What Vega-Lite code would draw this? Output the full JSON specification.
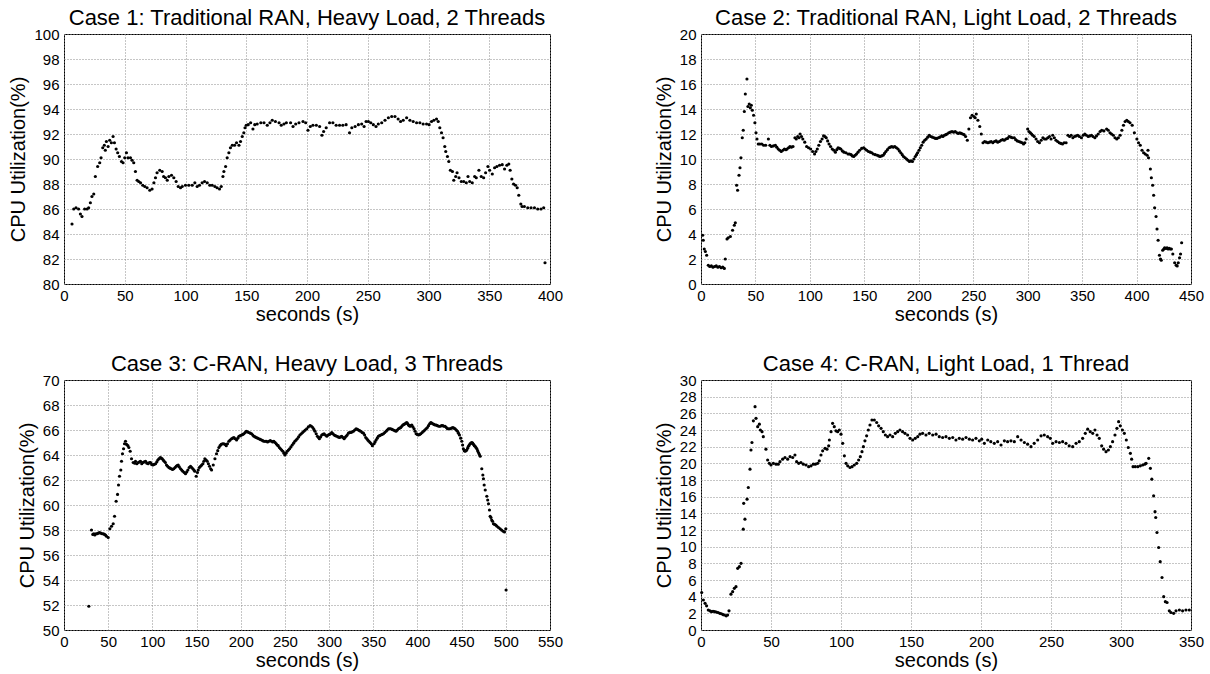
{
  "$schema": "https://vega.github.io/schema/vega-lite/v6.json",
  "background": "white",
  "padding": {"left": 8, "top": 6, "right": 5, "bottom": 0},
  "columns": 2,
  "spacing": {"row": 27, "column": 89},
  "config": {
    "font": "Liberation Sans",
    "view": {"stroke": "#000", "strokeWidth": 1},
    "axis": {"grid": true, "gridColor": "#8c8c8c", "gridDash": [1, 2], "gridWidth": 1, "gridOpacity": 1, "domain": false, "ticks": false, "labelFont": "Liberation Sans", "labelFontSize": 15, "labelColor": "#000", "titleFont": "Liberation Sans", "titleFontSize": 20, "titleFontWeight": "normal", "titleColor": "#000"},
    "axisX": {"labelPadding": 4, "titlePadding": 1, "labelFlush": false},
    "axisY": {"labelPadding": 5, "titlePadding": 5},
    "title": {"font": "Liberation Sans", "fontSize": 22, "fontWeight": "normal", "color": "#000", "offset": -3, "anchor": "middle"}
  },
  "datasets": {
    "c1": [
      {"t":6.6,"u":84.8},{"t":8,"u":86.0},{"t":9.9,"u":86.1},{"t":12,"u":86.0},{"t":13.5,"u":85.6},{"t":14.8,"u":85.4},{"t":17,"u":86.0},{"t":19,"u":86.0},{"t":20.3,"u":86.1},{"t":21.7,"u":86.5},{"t":23,"u":87.0},{"t":24.5,"u":87.2},{"t":25.8,"u":88.6},{"t":27.7,"u":89.4},{"t":29.4,"u":89.7},{"t":30.5,"u":90.1},{"t":31.9,"u":90.9},{"t":33.2,"u":91.1},{"t":34,"u":90.7},{"t":34.9,"u":91.4},{"t":36.3,"u":91.0},{"t":37.6,"u":91.5},{"t":39,"u":91.3},{"t":40.4,"u":91.8},{"t":41.5,"u":91.3},{"t":42.9,"u":90.8},{"t":44.2,"u":90.5},{"t":45.6,"u":90.2},{"t":47.3,"u":89.8},{"t":48.6,"u":89.7},{"t":50,"u":90.1},{"t":51.4,"u":90.5},{"t":52.7,"u":90.1},{"t":54.7,"u":90.1},{"t":56,"u":89.9},{"t":57.4,"u":89.7},{"t":58.8,"u":89.0},{"t":60.2,"u":88.3},{"t":61.5,"u":88.2},{"t":63,"u":88.1},{"t":64.8,"u":87.9},{"t":66.5,"u":87.8},{"t":68.4,"u":87.7},{"t":70.6,"u":87.5},{"t":72.5,"u":87.6},{"t":74,"u":88.1},{"t":75.3,"u":88.5},{"t":76.6,"u":88.9},{"t":78.8,"u":89.1},{"t":80.8,"u":89.0},{"t":82,"u":88.6},{"t":83.5,"u":88.5},{"t":85,"u":88.3},{"t":86.3,"u":88.6},{"t":88.5,"u":88.7},{"t":90.4,"u":88.5},{"t":92.3,"u":88.2},{"t":94,"u":87.8},{"t":95.9,"u":87.7},{"t":97.3,"u":87.8},{"t":100,"u":87.9},{"t":102.7,"u":87.9},{"t":105.5,"u":87.9},{"t":107.7,"u":88.1},{"t":109.6,"u":87.8},{"t":111.5,"u":87.9},{"t":113.7,"u":88.1},{"t":115.7,"u":88.2},{"t":117.9,"u":88.1},{"t":120,"u":87.9},{"t":122,"u":87.9},{"t":124.2,"u":87.8},{"t":126,"u":87.7},{"t":128,"u":87.6},{"t":129.4,"u":87.8},{"t":130.8,"u":88.6},{"t":131.6,"u":89.0},{"t":133,"u":89.4},{"t":134.3,"u":90.1},{"t":135.7,"u":90.5},{"t":137,"u":90.9},{"t":138.5,"u":91.1},{"t":140.4,"u":91.1},{"t":142,"u":91.3},{"t":144,"u":91.1},{"t":145.3,"u":91.4},{"t":146.7,"u":91.8},{"t":148,"u":92.1},{"t":149,"u":92.5},{"t":150,"u":92.7},{"t":151.6,"u":92.75},{"t":153.6,"u":92.9},{"t":155.5,"u":92.4},{"t":157,"u":92.75},{"t":159,"u":92.8},{"t":162,"u":92.9},{"t":164.6,"u":92.9},{"t":167.3,"u":92.7},{"t":169.5,"u":92.9},{"t":171.4,"u":93.1},{"t":174,"u":93.0},{"t":177,"u":92.9},{"t":178.8,"u":92.7},{"t":181,"u":92.8},{"t":183,"u":92.9},{"t":186.5,"u":92.9},{"t":188.5,"u":92.6},{"t":190.7,"u":92.8},{"t":193.4,"u":92.9},{"t":196.7,"u":93.0},{"t":198.9,"u":92.9},{"t":200.8,"u":92.3},{"t":202.7,"u":92.6},{"t":204.9,"u":92.7},{"t":207.7,"u":92.7},{"t":210.4,"u":92.6},{"t":212.3,"u":91.9},{"t":213.7,"u":92.2},{"t":215.8,"u":92.5},{"t":218.6,"u":92.9},{"t":221.3,"u":92.9},{"t":224,"u":92.7},{"t":226.8,"u":92.7},{"t":229.5,"u":92.7},{"t":232.2,"u":92.75},{"t":235,"u":92.1},{"t":236.9,"u":92.5},{"t":239.6,"u":92.6},{"t":242.3,"u":92.75},{"t":245,"u":92.8},{"t":247,"u":92.6},{"t":248.6,"u":93.0},{"t":250.5,"u":93.0},{"t":252.5,"u":92.9},{"t":254.6,"u":92.75},{"t":256.8,"u":92.6},{"t":258.7,"u":92.8},{"t":261.5,"u":92.9},{"t":264.2,"u":93.1},{"t":267,"u":93.3},{"t":269.7,"u":93.4},{"t":272.4,"u":93.4},{"t":275,"u":93.2},{"t":277,"u":93.0},{"t":279.2,"u":93.1},{"t":282,"u":93.3},{"t":284.7,"u":93.1},{"t":287.4,"u":93.0},{"t":290.2,"u":92.9},{"t":292.9,"u":92.9},{"t":295.6,"u":92.8},{"t":298.4,"u":92.8},{"t":300.5,"u":92.75},{"t":302.5,"u":93.0},{"t":304.4,"u":93.1},{"t":306.6,"u":93.2},{"t":308,"u":93.0},{"t":309.3,"u":92.5},{"t":310.7,"u":92.1},{"t":312,"u":91.7},{"t":313.4,"u":91.0},{"t":314.2,"u":90.6},{"t":315.6,"u":90.2},{"t":316.7,"u":89.8},{"t":318,"u":89.1},{"t":319.7,"u":89.0},{"t":320.8,"u":88.3},{"t":322.4,"u":88.6},{"t":323.5,"u":88.9},{"t":325.1,"u":88.5},{"t":327,"u":88.2},{"t":329,"u":88.2},{"t":331.1,"u":88.1},{"t":332.5,"u":88.6},{"t":333.9,"u":88.2},{"t":336,"u":88.1},{"t":338,"u":88.6},{"t":339.3,"u":88.5},{"t":341.5,"u":89.1},{"t":343.4,"u":88.6},{"t":345.4,"u":88.5},{"t":347,"u":88.9},{"t":348.9,"u":89.4},{"t":350.3,"u":89.1},{"t":352.5,"u":88.8},{"t":354.4,"u":89.3},{"t":356.3,"u":89.4},{"t":358.5,"u":89.5},{"t":360.7,"u":89.55},{"t":362.6,"u":89.2},{"t":364.5,"u":89.5},{"t":366.1,"u":89.6},{"t":367.2,"u":89.1},{"t":368.6,"u":88.4},{"t":370,"u":88.0},{"t":371.6,"u":87.9},{"t":373,"u":87.7},{"t":374.3,"u":87.1},{"t":376,"u":86.4},{"t":377,"u":86.2},{"t":378.9,"u":86.2},{"t":381.7,"u":86.1},{"t":384.4,"u":86.1},{"t":387.2,"u":86.1},{"t":389.9,"u":86.0},{"t":392.6,"u":86.0},{"t":394.8,"u":86.1},{"t":395.9,"u":81.7}
    ],
    "c2": [
      {"t":1.5,"u":3.9},{"t":2.1,"u":3.5},{"t":3,"u":2.8},{"t":4,"u":2.6},{"t":5.2,"u":2.3},{"t":6.7,"u":1.5},{"t":8,"u":1.4},{"t":9.5,"u":1.45},{"t":11,"u":1.35},{"t":12.5,"u":1.4},{"t":14,"u":1.45},{"t":15.5,"u":1.35},{"t":17,"u":1.4},{"t":18.5,"u":1.3},{"t":20,"u":1.35},{"t":21.4,"u":1.25},{"t":22.3,"u":2.0},{"t":23.9,"u":3.6},{"t":25,"u":3.7},{"t":27,"u":3.8},{"t":29,"u":4.3},{"t":30.6,"u":4.7},{"t":31.5,"u":4.9},{"t":32.7,"u":7.9},{"t":33.6,"u":7.5},{"t":34.9,"u":8.7},{"t":35.8,"u":9.3},{"t":36.7,"u":10.1},{"t":37.9,"u":11.7},{"t":38.8,"u":12.3},{"t":39.8,"u":13.8},{"t":40.7,"u":15.2},{"t":42.2,"u":16.4},{"t":43.1,"u":14.2},{"t":44.3,"u":14.4},{"t":45.3,"u":14.1},{"t":46.2,"u":14.3},{"t":47.1,"u":13.9},{"t":48.3,"u":13.5},{"t":49.5,"u":12.9},{"t":50.5,"u":12.1},{"t":51.4,"u":11.6},{"t":52.6,"u":11.2},{"t":54,"u":11.2},{"t":55.8,"u":11.2},{"t":57.5,"u":11.1},{"t":59.4,"u":11.1},{"t":61.9,"u":11.6},{"t":63.3,"u":11.1},{"t":64.7,"u":11.0},{"t":66.5,"u":11.05},{"t":68.3,"u":11.1},{"t":69.6,"u":10.95},{"t":70.9,"u":10.8},{"t":72.3,"u":10.7},{"t":73.7,"u":10.6},{"t":75.2,"u":10.7},{"t":76.6,"u":10.8},{"t":78,"u":10.75},{"t":79,"u":10.8},{"t":80.4,"u":10.9},{"t":81.7,"u":11.0},{"t":83,"u":10.95},{"t":84.5,"u":11.0},{"t":86.3,"u":11.7},{"t":87.5,"u":11.6},{"t":88.8,"u":11.8},{"t":90,"u":11.7},{"t":91,"u":12.0},{"t":92.3,"u":11.8},{"t":93.5,"u":11.6},{"t":95.3,"u":11.35},{"t":97,"u":11.0},{"t":98.8,"u":10.9},{"t":100.7,"u":10.8},{"t":102.5,"u":10.6},{"t":104.3,"u":10.4},{"t":105.5,"u":10.6},{"t":106.8,"u":10.8},{"t":108.2,"u":11.1},{"t":109.7,"u":11.4},{"t":111.2,"u":11.6},{"t":112.6,"u":11.85},{"t":113.8,"u":11.8},{"t":115,"u":11.7},{"t":116.3,"u":11.45},{"t":117.6,"u":11.2},{"t":119,"u":11.0},{"t":120.5,"u":10.8},{"t":122,"u":10.7},{"t":123.4,"u":10.55},{"t":124.7,"u":10.75},{"t":125.9,"u":10.9},{"t":127.2,"u":10.85},{"t":128.4,"u":10.8},{"t":129.8,"u":10.65},{"t":131.3,"u":10.55},{"t":133.1,"u":10.5},{"t":135,"u":10.4},{"t":136.4,"u":10.4},{"t":137.8,"u":10.35},{"t":139,"u":10.25},{"t":140.3,"u":10.2},{"t":141.5,"u":10.3},{"t":142.8,"u":10.4},{"t":144.2,"u":10.55},{"t":145.7,"u":10.7},{"t":147.5,"u":10.85},{"t":149.3,"u":10.9},{"t":150.7,"u":10.8},{"t":152.2,"u":10.7},{"t":153.8,"u":10.6},{"t":155.4,"u":10.55},{"t":156.8,"u":10.5},{"t":158.3,"u":10.4},{"t":160.1,"u":10.35},{"t":161.9,"u":10.3},{"t":163.2,"u":10.25},{"t":164.4,"u":10.2},{"t":165.8,"u":10.25},{"t":167.3,"u":10.3},{"t":168.5,"u":10.45},{"t":169.8,"u":10.6},{"t":171.2,"u":10.75},{"t":172.7,"u":10.9},{"t":174,"u":10.95},{"t":175.2,"u":11.0},{"t":176.6,"u":10.95},{"t":178,"u":11.0},{"t":179.5,"u":10.9},{"t":180.9,"u":10.8},{"t":182.2,"u":10.65},{"t":183.5,"u":10.5},{"t":184.8,"u":10.35},{"t":186,"u":10.2},{"t":187.4,"u":10.1},{"t":188.8,"u":10.0},{"t":190.1,"u":9.9},{"t":191.4,"u":9.8},{"t":192.8,"u":9.85},{"t":194.2,"u":9.8},{"t":195.5,"u":10.0},{"t":196.8,"u":10.2},{"t":197.9,"u":10.35},{"t":198.9,"u":10.5},{"t":200.2,"u":10.7},{"t":201.4,"u":10.9},{"t":202.7,"u":11.1},{"t":204,"u":11.35},{"t":205.4,"u":11.5},{"t":206.8,"u":11.6},{"t":208.2,"u":11.75},{"t":209.7,"u":11.9},{"t":211,"u":11.8},{"t":212.5,"u":11.75},{"t":214,"u":11.7},{"t":215.3,"u":11.65},{"t":216.6,"u":11.65},{"t":218,"u":11.7},{"t":219.3,"u":11.75},{"t":221,"u":11.85},{"t":222.2,"u":11.8},{"t":223.5,"u":11.9},{"t":224.8,"u":11.95},{"t":226,"u":12.0},{"t":227.5,"u":12.1},{"t":229,"u":12.15},{"t":230.5,"u":12.2},{"t":232,"u":12.15},{"t":233.5,"u":12.2},{"t":235,"u":12.1},{"t":236.3,"u":12.05},{"t":237.7,"u":12.1},{"t":239,"u":12.05},{"t":240.3,"u":12.0},{"t":241.6,"u":11.95},{"t":243,"u":11.8},{"t":244.6,"u":11.5},{"t":246,"u":12.4},{"t":247.5,"u":13.3},{"t":249,"u":13.5},{"t":250.6,"u":13.4},{"t":251.8,"u":13.3},{"t":252.8,"u":13.6},{"t":254.3,"u":13.1},{"t":256,"u":12.6},{"t":257.4,"u":12.0},{"t":259,"u":11.3},{"t":260.5,"u":11.4},{"t":262,"u":11.35},{"t":263.5,"u":11.3},{"t":265,"u":11.35},{"t":266.5,"u":11.4},{"t":268,"u":11.3},{"t":269.5,"u":11.4},{"t":271,"u":11.45},{"t":272.5,"u":11.35},{"t":274,"u":11.4},{"t":275.5,"u":11.5},{"t":277,"u":11.55},{"t":278.5,"u":11.5},{"t":280,"u":11.6},{"t":281.5,"u":11.65},{"t":283,"u":11.8},{"t":284.5,"u":11.75},{"t":286,"u":11.7},{"t":287.7,"u":11.7},{"t":289,"u":11.55},{"t":290.5,"u":11.45},{"t":292,"u":11.4},{"t":293.5,"u":11.35},{"t":295,"u":11.3},{"t":296.2,"u":11.2},{"t":297.4,"u":11.3},{"t":298.6,"u":11.6},{"t":300,"u":12.4},{"t":301.2,"u":12.2},{"t":302.5,"u":12.1},{"t":303.6,"u":12.0},{"t":304.6,"u":11.9},{"t":306,"u":11.8},{"t":307.7,"u":11.6},{"t":309.2,"u":11.4},{"t":310.8,"u":11.3},{"t":312.4,"u":11.5},{"t":314,"u":11.7},{"t":315.5,"u":11.6},{"t":317,"u":11.6},{"t":318.5,"u":11.7},{"t":320,"u":11.8},{"t":321.5,"u":11.6},{"t":323,"u":11.9},{"t":324.5,"u":11.7},{"t":326,"u":11.5},{"t":327.5,"u":11.4},{"t":329,"u":11.3},{"t":330.5,"u":11.25},{"t":332,"u":11.2},{"t":333.5,"u":11.3},{"t":335.3,"u":11.3},{"t":337,"u":11.9},{"t":338.5,"u":11.8},{"t":340,"u":11.9},{"t":341.5,"u":11.7},{"t":343,"u":11.8},{"t":344.5,"u":11.85},{"t":346,"u":11.9},{"t":347.5,"u":11.8},{"t":349.4,"u":11.7},{"t":351,"u":11.9},{"t":352.5,"u":12.0},{"t":354,"u":11.9},{"t":355.6,"u":11.8},{"t":357,"u":11.85},{"t":358.6,"u":11.9},{"t":360,"u":11.8},{"t":361.7,"u":11.7},{"t":363.2,"u":11.85},{"t":364.8,"u":12.0},{"t":366.5,"u":12.2},{"t":368,"u":12.3},{"t":370,"u":12.25},{"t":372.5,"u":12.4},{"t":374,"u":12.3},{"t":375.6,"u":12.1},{"t":377,"u":12.0},{"t":378.7,"u":11.9},{"t":380.2,"u":11.7},{"t":381.8,"u":11.6},{"t":383.3,"u":11.7},{"t":384.9,"u":11.9},{"t":386.5,"u":12.3},{"t":388,"u":12.7},{"t":389.5,"u":13.0},{"t":391,"u":13.1},{"t":392.5,"u":13.0},{"t":394,"u":12.9},{"t":396,"u":12.7},{"t":398,"u":12.1},{"t":400.3,"u":11.6},{"t":401.8,"u":11.3},{"t":403.4,"u":11.1},{"t":405,"u":10.7},{"t":406.5,"u":10.5},{"t":408,"u":10.4},{"t":409.7,"u":10.3},{"t":410.5,"u":10.7},{"t":411,"u":10.1},{"t":412.7,"u":9.2},{"t":413.6,"u":8.5},{"t":414.8,"u":7.9},{"t":415.7,"u":7.1},{"t":416.6,"u":6.1},{"t":417.9,"u":5.4},{"t":418.8,"u":4.4},{"t":419.8,"u":3.5},{"t":421,"u":2.3},{"t":422,"u":2.0},{"t":422.7,"u":1.9},{"t":424,"u":2.7},{"t":425,"u":2.8},{"t":425.8,"u":2.9},{"t":427,"u":2.85},{"t":428,"u":2.9},{"t":429,"u":2.8},{"t":430,"u":2.85},{"t":431,"u":2.8},{"t":432,"u":2.8},{"t":433.3,"u":2.4},{"t":435,"u":1.7},{"t":436.4,"u":1.5},{"t":437.3,"u":1.45},{"t":438.3,"u":1.7},{"t":439.5,"u":2.1},{"t":440.4,"u":2.4},{"t":441.4,"u":3.3}
    ],
    "c3": [
      {"t":28.1,"u":51.9},{"t":31.1,"u":58.0},{"t":32.6,"u":57.65},{"t":33.8,"u":57.7},{"t":34.9,"u":57.6},{"t":36.2,"u":57.7},{"t":37.5,"u":57.7},{"t":38.8,"u":57.75},{"t":40.2,"u":57.8},{"t":41.7,"u":57.75},{"t":43.2,"u":57.7},{"t":44.5,"u":57.7},{"t":45.8,"u":57.65},{"t":47,"u":57.6},{"t":48.1,"u":57.5},{"t":50,"u":57.4},{"t":51.9,"u":58.1},{"t":53.8,"u":58.3},{"t":55.7,"u":58.5},{"t":57.2,"u":59.1},{"t":59,"u":60.3},{"t":60.6,"u":60.85},{"t":61.7,"u":61.6},{"t":62.8,"u":62.3},{"t":64.3,"u":62.8},{"t":65.1,"u":63.5},{"t":66.2,"u":64.1},{"t":67.4,"u":64.5},{"t":68.5,"u":64.9},{"t":69.6,"u":65.1},{"t":70.8,"u":64.85},{"t":72.3,"u":64.75},{"t":73.4,"u":64.6},{"t":74.9,"u":64.3},{"t":76.4,"u":63.7},{"t":78.3,"u":63.4},{"t":80,"u":63.35},{"t":80.9,"u":63.5},{"t":82.5,"u":63.3},{"t":84,"u":63.4},{"t":85.5,"u":63.45},{"t":86.6,"u":63.5},{"t":88,"u":63.3},{"t":89.2,"u":63.4},{"t":90.8,"u":63.45},{"t":92.3,"u":63.5},{"t":93.8,"u":63.35},{"t":95.3,"u":63.3},{"t":96.6,"u":63.4},{"t":97.9,"u":63.4},{"t":99.2,"u":63.25},{"t":100.6,"u":63.2},{"t":102,"u":63.25},{"t":103.6,"u":63.3},{"t":105,"u":63.45},{"t":106.2,"u":63.6},{"t":107.5,"u":63.7},{"t":108.9,"u":63.8},{"t":110,"u":63.75},{"t":111.1,"u":63.7},{"t":112.3,"u":63.6},{"t":113.4,"u":63.5},{"t":114.7,"u":63.4},{"t":116,"u":63.2},{"t":117.3,"u":63.1},{"t":118.7,"u":63.0},{"t":120,"u":62.95},{"t":121.3,"u":62.9},{"t":122.8,"u":62.85},{"t":124.3,"u":62.9},{"t":125.7,"u":63.0},{"t":127,"u":63.1},{"t":128,"u":63.15},{"t":129.2,"u":63.2},{"t":130.5,"u":63.05},{"t":131.9,"u":62.9},{"t":133.2,"u":62.8},{"t":134.5,"u":62.7},{"t":136,"u":62.6},{"t":137.5,"u":62.5},{"t":138.9,"u":62.65},{"t":140.2,"u":62.8},{"t":141.7,"u":63.0},{"t":143.2,"u":63.1},{"t":144.5,"u":63.0},{"t":145.8,"u":62.9},{"t":147,"u":62.8},{"t":148,"u":62.7},{"t":149.6,"u":62.3},{"t":151,"u":62.6},{"t":151.9,"u":62.8},{"t":153.2,"u":63.0},{"t":154.5,"u":63.1},{"t":155.8,"u":63.2},{"t":157.2,"u":63.3},{"t":158.3,"u":63.5},{"t":159.4,"u":63.7},{"t":160.8,"u":63.6},{"t":162.1,"u":63.5},{"t":163.4,"u":63.3},{"t":164.7,"u":63.1},{"t":166,"u":62.9},{"t":167,"u":62.8},{"t":168.9,"u":63.2},{"t":170.8,"u":63.7},{"t":172.6,"u":64.1},{"t":174,"u":64.35},{"t":175.3,"u":64.6},{"t":176.6,"u":64.75},{"t":177.9,"u":64.85},{"t":179.4,"u":64.9},{"t":180.9,"u":64.9},{"t":182.2,"u":64.85},{"t":183.6,"u":64.75},{"t":185,"u":64.9},{"t":186.6,"u":65.1},{"t":188,"u":65.2},{"t":189.6,"u":65.3},{"t":191,"u":65.35},{"t":192.3,"u":65.4},{"t":193.8,"u":65.3},{"t":195.3,"u":65.2},{"t":196.7,"u":65.35},{"t":198,"u":65.5},{"t":199.5,"u":65.55},{"t":201,"u":65.6},{"t":202.3,"u":65.65},{"t":203.6,"u":65.7},{"t":205,"u":65.8},{"t":206.3,"u":65.9},{"t":207.8,"u":65.85},{"t":209.2,"u":65.8},{"t":210.8,"u":65.75},{"t":212.3,"u":65.7},{"t":213.6,"u":65.6},{"t":214.9,"u":65.5},{"t":216.3,"u":65.45},{"t":217.6,"u":65.4},{"t":219.1,"u":65.35},{"t":220.6,"u":65.3},{"t":222.1,"u":65.25},{"t":223.6,"u":65.2},{"t":224.9,"u":65.15},{"t":226.2,"u":65.1},{"t":227.6,"u":65.1},{"t":228.9,"u":65.1},{"t":230.4,"u":65.05},{"t":231.9,"u":65.1},{"t":233.4,"u":65.15},{"t":234.9,"u":65.1},{"t":236.2,"u":65.05},{"t":237.5,"u":65.1},{"t":238.9,"u":65.0},{"t":240.2,"u":64.9},{"t":241.3,"u":64.8},{"t":242.4,"u":64.75},{"t":243.7,"u":64.6},{"t":245,"u":64.5},{"t":246.3,"u":64.4},{"t":247.7,"u":64.3},{"t":248.9,"u":64.15},{"t":250,"u":64.0},{"t":251.3,"u":64.15},{"t":252.6,"u":64.3},{"t":254,"u":64.4},{"t":255.3,"u":64.5},{"t":256.8,"u":64.65},{"t":258.3,"u":64.8},{"t":259.8,"u":64.95},{"t":261.3,"u":65.1},{"t":262.7,"u":65.2},{"t":264,"u":65.3},{"t":265.5,"u":65.45},{"t":267,"u":65.6},{"t":268.5,"u":65.7},{"t":270,"u":65.8},{"t":271.5,"u":65.9},{"t":273,"u":66.0},{"t":274.7,"u":66.1},{"t":276.5,"u":66.25},{"t":278.5,"u":66.35},{"t":280,"u":66.3},{"t":281.5,"u":66.2},{"t":282.8,"u":66.05},{"t":284,"u":65.9},{"t":285.4,"u":65.7},{"t":286.8,"u":65.5},{"t":288,"u":65.4},{"t":289,"u":65.3},{"t":290.4,"u":65.45},{"t":291.7,"u":65.6},{"t":293,"u":65.65},{"t":294.3,"u":65.7},{"t":295.8,"u":65.6},{"t":297.4,"u":65.5},{"t":298.9,"u":65.6},{"t":300.4,"u":65.65},{"t":301.7,"u":65.7},{"t":303,"u":65.8},{"t":304.4,"u":65.7},{"t":305.7,"u":65.6},{"t":307.2,"u":65.55},{"t":308.7,"u":65.5},{"t":310.2,"u":65.45},{"t":311.7,"u":65.4},{"t":313,"u":65.45},{"t":314.3,"u":65.5},{"t":315.7,"u":65.4},{"t":317,"u":65.3},{"t":318,"u":65.4},{"t":319.2,"u":65.5},{"t":320.5,"u":65.6},{"t":321.9,"u":65.75},{"t":323.2,"u":65.8},{"t":324.5,"u":65.8},{"t":326,"u":65.85},{"t":327.5,"u":65.9},{"t":329,"u":66.0},{"t":330.6,"u":66.1},{"t":332,"u":66.05},{"t":333.2,"u":66.0},{"t":334.5,"u":65.95},{"t":335.8,"u":65.9},{"t":337.4,"u":65.8},{"t":338.9,"u":65.75},{"t":340.2,"u":65.6},{"t":341.5,"u":65.4},{"t":342.7,"u":65.3},{"t":343.8,"u":65.2},{"t":345.1,"u":65.1},{"t":346.4,"u":65.0},{"t":347.7,"u":64.9},{"t":349,"u":64.75},{"t":350.9,"u":64.9},{"t":352,"u":65.05},{"t":353.2,"u":65.2},{"t":354.5,"u":65.35},{"t":355.8,"u":65.5},{"t":357.1,"u":65.55},{"t":358.5,"u":65.6},{"t":360,"u":65.65},{"t":361.5,"u":65.7},{"t":363,"u":65.8},{"t":364.5,"u":65.9},{"t":365.8,"u":66.0},{"t":367.2,"u":66.1},{"t":368.5,"u":66.1},{"t":369.8,"u":66.1},{"t":371.3,"u":66.05},{"t":372.8,"u":66.0},{"t":374.3,"u":65.95},{"t":375.8,"u":65.9},{"t":377.2,"u":66.0},{"t":378.5,"u":66.1},{"t":379.8,"u":66.15},{"t":381.1,"u":66.2},{"t":382.2,"u":66.3},{"t":383.4,"u":66.4},{"t":384.7,"u":66.45},{"t":386,"u":66.5},{"t":387,"u":66.55},{"t":388,"u":66.6},{"t":389,"u":66.5},{"t":389.8,"u":66.4},{"t":390.7,"u":66.35},{"t":391.7,"u":66.3},{"t":392.6,"u":66.35},{"t":393.6,"u":66.4},{"t":394.9,"u":66.25},{"t":396.2,"u":66.1},{"t":397.3,"u":65.9},{"t":398.5,"u":65.7},{"t":399.8,"u":65.65},{"t":401.1,"u":65.6},{"t":402.5,"u":65.65},{"t":403.8,"u":65.7},{"t":405.3,"u":65.8},{"t":406.8,"u":65.9},{"t":408.3,"u":66.0},{"t":409.8,"u":66.1},{"t":411.2,"u":66.2},{"t":412.5,"u":66.35},{"t":413.8,"u":66.5},{"t":415.1,"u":66.6},{"t":416.2,"u":66.55},{"t":417.4,"u":66.5},{"t":418.7,"u":66.45},{"t":420,"u":66.4},{"t":421.3,"u":66.4},{"t":422.6,"u":66.35},{"t":424.2,"u":66.3},{"t":425.7,"u":66.3},{"t":427.2,"u":66.35},{"t":428.7,"u":66.35},{"t":430,"u":66.3},{"t":431.3,"u":66.3},{"t":432.7,"u":66.2},{"t":434,"u":66.1},{"t":435.5,"u":66.1},{"t":437,"u":66.1},{"t":438.5,"u":66.15},{"t":440,"u":66.2},{"t":441.3,"u":66.15},{"t":442.6,"u":66.1},{"t":444,"u":66.0},{"t":445.3,"u":65.9},{"t":446.4,"u":65.75},{"t":447.5,"u":65.6},{"t":448.9,"u":65.35},{"t":450.2,"u":65.1},{"t":451.1,"u":64.8},{"t":452,"u":64.5},{"t":453,"u":64.35},{"t":453.9,"u":64.3},{"t":454.9,"u":64.35},{"t":455.8,"u":64.4},{"t":456.8,"u":64.55},{"t":457.7,"u":64.7},{"t":458.6,"u":64.8},{"t":459.6,"u":64.9},{"t":460.5,"u":64.95},{"t":461.5,"u":65.0},{"t":462.5,"u":64.95},{"t":463.4,"u":64.85},{"t":464.4,"u":64.75},{"t":465.3,"u":64.7},{"t":466.2,"u":64.6},{"t":467.2,"u":64.5},{"t":468.1,"u":64.35},{"t":469,"u":64.2},{"t":470,"u":64.05},{"t":471,"u":63.9},{"t":472.8,"u":62.9},{"t":474,"u":62.4},{"t":474.7,"u":62.1},{"t":475.5,"u":61.6},{"t":476.7,"u":61.2},{"t":478.5,"u":60.7},{"t":479.5,"u":60.4},{"t":480.4,"u":60.1},{"t":481.5,"u":59.6},{"t":482.3,"u":59.1},{"t":483.2,"u":59.0},{"t":484,"u":58.8},{"t":485,"u":58.7},{"t":486,"u":58.5},{"t":487.3,"u":58.45},{"t":488.7,"u":58.4},{"t":490,"u":58.3},{"t":491.7,"u":58.2},{"t":493.5,"u":58.1},{"t":495.2,"u":58.0},{"t":497,"u":57.9},{"t":498.5,"u":57.85},{"t":500,"u":58.1},{"t":500.3,"u":53.2}
    ],
    "c4": [
      {"t":0.5,"u":4.5},{"t":1.7,"u":3.6},{"t":2.9,"u":3.2},{"t":4,"u":2.9},{"t":5.2,"u":2.4},{"t":6.4,"u":2.3},{"t":7.5,"u":2.2},{"t":8.6,"u":2.25},{"t":9.8,"u":2.2},{"t":11,"u":2.15},{"t":12.2,"u":2.1},{"t":13.4,"u":2.0},{"t":14.6,"u":1.95},{"t":15.7,"u":1.85},{"t":16.7,"u":1.8},{"t":18,"u":1.7},{"t":19,"u":1.8},{"t":20,"u":2.3},{"t":21.4,"u":4.3},{"t":22.6,"u":4.6},{"t":23.8,"u":5.0},{"t":25,"u":5.2},{"t":26.2,"u":7.4},{"t":27.4,"u":7.6},{"t":28.6,"u":8.0},{"t":30.2,"u":12.1},{"t":30.5,"u":15.2},{"t":31.4,"u":13.3},{"t":32.9,"u":15.7},{"t":33.8,"u":17.1},{"t":35,"u":19.3},{"t":35.7,"u":21.6},{"t":36.4,"u":22.5},{"t":37.4,"u":25.1},{"t":38.6,"u":26.8},{"t":39.3,"u":25.4},{"t":40.5,"u":24.4},{"t":41.7,"u":24.7},{"t":42.4,"u":24.0},{"t":43.6,"u":23.8},{"t":44.5,"u":23.2},{"t":46.4,"u":21.7},{"t":47.6,"u":20.4},{"t":48.8,"u":20.0},{"t":50,"u":19.8},{"t":51.7,"u":20.0},{"t":53.6,"u":19.9},{"t":55.2,"u":19.9},{"t":56.4,"u":20.2},{"t":58.3,"u":20.5},{"t":60,"u":20.7},{"t":61.9,"u":20.5},{"t":63.6,"u":20.8},{"t":65.5,"u":20.7},{"t":67.1,"u":21.0},{"t":68.3,"u":20.2},{"t":69.8,"u":20.0},{"t":71.4,"u":20.1},{"t":73.1,"u":19.9},{"t":75,"u":19.8},{"t":76.9,"u":19.6},{"t":78.6,"u":19.7},{"t":80.2,"u":19.9},{"t":81.7,"u":19.9},{"t":83.3,"u":20.0},{"t":84.5,"u":20.3},{"t":85.7,"u":21.0},{"t":86.9,"u":21.5},{"t":88.6,"u":21.8},{"t":90,"u":21.7},{"t":91.2,"u":22.1},{"t":91.7,"u":22.8},{"t":92.9,"u":23.8},{"t":94,"u":24.8},{"t":95.2,"u":24.4},{"t":96.4,"u":23.9},{"t":97.6,"u":23.8},{"t":98.8,"u":24.0},{"t":100,"u":23.5},{"t":101.2,"u":22.4},{"t":102.4,"u":20.9},{"t":103.6,"u":20.0},{"t":104.8,"u":19.7},{"t":106.4,"u":19.5},{"t":107.9,"u":19.6},{"t":109.5,"u":19.8},{"t":111.2,"u":20.0},{"t":112.6,"u":20.4},{"t":113.8,"u":20.8},{"t":115,"u":21.4},{"t":116,"u":22.0},{"t":117.1,"u":22.7},{"t":118.3,"u":23.3},{"t":119.5,"u":24.0},{"t":120.7,"u":24.6},{"t":122.1,"u":25.2},{"t":123.8,"u":25.2},{"t":125.5,"u":24.9},{"t":126.9,"u":24.5},{"t":128.6,"u":24.2},{"t":130.2,"u":23.8},{"t":131.7,"u":23.4},{"t":133.3,"u":23.2},{"t":135,"u":23.4},{"t":136.9,"u":23.2},{"t":138.8,"u":23.6},{"t":140.5,"u":23.8},{"t":142.1,"u":24.0},{"t":144,"u":23.8},{"t":145.7,"u":23.6},{"t":147.6,"u":23.4},{"t":149.3,"u":23.0},{"t":151.2,"u":22.8},{"t":153,"u":23.0},{"t":154.8,"u":23.2},{"t":156.4,"u":23.5},{"t":158.3,"u":23.6},{"t":160.7,"u":23.4},{"t":163,"u":23.6},{"t":165.5,"u":23.4},{"t":167.9,"u":23.5},{"t":170.2,"u":23.2},{"t":172.6,"u":23.1},{"t":175,"u":23.2},{"t":177.4,"u":23.0},{"t":179.8,"u":23.1},{"t":182.1,"u":22.8},{"t":184.5,"u":23.0},{"t":186.9,"u":22.9},{"t":189.3,"u":23.1},{"t":191.7,"u":22.9},{"t":194,"u":22.8},{"t":196.4,"u":23.0},{"t":198.8,"u":22.7},{"t":200.5,"u":22.9},{"t":202.4,"u":22.4},{"t":204.8,"u":22.8},{"t":207,"u":22.6},{"t":209.5,"u":22.4},{"t":211.9,"u":22.6},{"t":214.3,"u":22.2},{"t":216.7,"u":22.7},{"t":219,"u":22.6},{"t":221.4,"u":22.7},{"t":223.8,"u":22.6},{"t":226.2,"u":23.2},{"t":228.6,"u":22.8},{"t":231,"u":22.5},{"t":233.3,"u":22.3},{"t":235.7,"u":22.0},{"t":238,"u":22.4},{"t":240.5,"u":22.8},{"t":242.9,"u":23.3},{"t":245.2,"u":23.4},{"t":247.6,"u":23.2},{"t":249.5,"u":23.0},{"t":251.2,"u":22.4},{"t":253.6,"u":22.6},{"t":256,"u":22.5},{"t":258.3,"u":22.6},{"t":260.7,"u":22.4},{"t":263,"u":22.1},{"t":265.5,"u":22.0},{"t":267.9,"u":22.4},{"t":270.2,"u":22.6},{"t":272.6,"u":23.0},{"t":274.5,"u":23.6},{"t":276.2,"u":24.1},{"t":278,"u":23.8},{"t":279.8,"u":23.6},{"t":281.4,"u":24.0},{"t":282.9,"u":23.4},{"t":284.5,"u":23.0},{"t":286.2,"u":22.1},{"t":287.6,"u":21.7},{"t":289.3,"u":21.4},{"t":291,"u":21.6},{"t":292.4,"u":22.0},{"t":294,"u":22.6},{"t":295.7,"u":23.4},{"t":297.1,"u":24.2},{"t":298.3,"u":25.0},{"t":299.5,"u":24.5},{"t":301,"u":24.0},{"t":302.4,"u":23.6},{"t":303.8,"u":22.8},{"t":305.2,"u":21.9},{"t":306.7,"u":21.2},{"t":307.6,"u":20.5},{"t":308.6,"u":19.6},{"t":310.2,"u":19.6},{"t":312,"u":19.6},{"t":313.8,"u":19.7},{"t":315.5,"u":19.8},{"t":317,"u":19.9},{"t":317.9,"u":20.0},{"t":319.8,"u":20.6},{"t":321,"u":19.4},{"t":322,"u":18.1},{"t":323.3,"u":16.1},{"t":324.3,"u":14.2},{"t":324.8,"u":13.5},{"t":325.7,"u":11.7},{"t":326.9,"u":9.9},{"t":328,"u":8.2},{"t":329.3,"u":6.3},{"t":330.5,"u":4.0},{"t":331.7,"u":3.4},{"t":332.9,"u":3.3},{"t":334.5,"u":2.3},{"t":335.7,"u":2.1},{"t":337.6,"u":2.0},{"t":339.3,"u":2.3},{"t":341.7,"u":2.4},{"t":344,"u":2.3},{"t":346.4,"u":2.4},{"t":348.8,"u":2.4}
    ]
  },
  "concat": [
    {
      "title": "Case 1: Traditional RAN, Heavy Load, 2 Threads",
      "width": 486, "height": 250,
      "data": {"name": "c1"},
      "mark": {"type": "point", "filled": true, "size": 10, "color": "#000", "opacity": 1},
      "encoding": {
        "x": {"field": "t", "type": "quantitative", "scale": {"domain": [0, 400], "nice": false, "zero": false}, "axis": {"title": "seconds (s)", "values": [0, 50, 100, 150, 200, 250, 300, 350, 400]}},
        "y": {"field": "u", "type": "quantitative", "scale": {"domain": [80, 100], "nice": false, "zero": false}, "axis": {"title": "CPU Utilization(%)", "values": [80, 82, 84, 86, 88, 90, 92, 94, 96, 98, 100]}}
      }
    },
    {
      "title": "Case 2: Traditional RAN, Light Load, 2 Threads",
      "width": 490, "height": 250,
      "data": {"name": "c2"},
      "mark": {"type": "point", "filled": true, "size": 10, "color": "#000", "opacity": 1},
      "encoding": {
        "x": {"field": "t", "type": "quantitative", "scale": {"domain": [0, 450], "nice": false, "zero": false}, "axis": {"title": "seconds (s)", "values": [0, 50, 100, 150, 200, 250, 300, 350, 400, 450]}},
        "y": {"field": "u", "type": "quantitative", "scale": {"domain": [0, 20], "nice": false, "zero": false}, "axis": {"title": "CPU Utilization(%)", "values": [0, 2, 4, 6, 8, 10, 12, 14, 16, 18, 20]}}
      }
    },
    {
      "title": "Case 3: C-RAN, Heavy Load, 3 Threads",
      "width": 486, "height": 250,
      "data": {"name": "c3"},
      "mark": {"type": "point", "filled": true, "size": 10, "color": "#000", "opacity": 1},
      "encoding": {
        "x": {"field": "t", "type": "quantitative", "scale": {"domain": [0, 550], "nice": false, "zero": false}, "axis": {"title": "seconds (s)", "values": [0, 50, 100, 150, 200, 250, 300, 350, 400, 450, 500, 550]}},
        "y": {"field": "u", "type": "quantitative", "scale": {"domain": [50, 70], "nice": false, "zero": false}, "axis": {"title": "CPU Utilization(%)", "values": [50, 52, 54, 56, 58, 60, 62, 64, 66, 68, 70]}}
      }
    },
    {
      "title": "Case 4: C-RAN, Light Load, 1 Thread",
      "width": 490, "height": 250,
      "data": {"name": "c4"},
      "mark": {"type": "point", "filled": true, "size": 10, "color": "#000", "opacity": 1},
      "encoding": {
        "x": {"field": "t", "type": "quantitative", "scale": {"domain": [0, 350], "nice": false, "zero": false}, "axis": {"title": "seconds (s)", "values": [0, 50, 100, 150, 200, 250, 300, 350]}},
        "y": {"field": "u", "type": "quantitative", "scale": {"domain": [0, 30], "nice": false, "zero": false}, "axis": {"title": "CPU Utilization(%)", "values": [0, 2, 4, 6, 8, 10, 12, 14, 16, 18, 20, 22, 24, 26, 28, 30]}}
      }
    }
  ]
}
